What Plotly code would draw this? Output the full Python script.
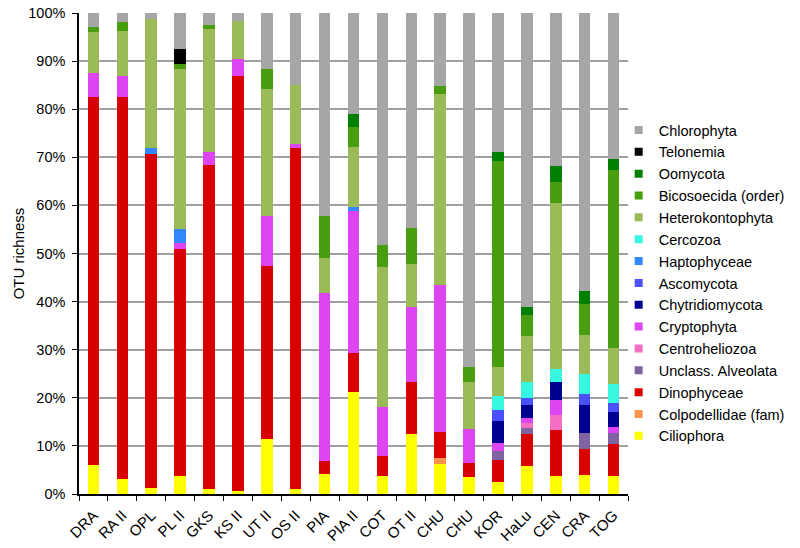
import plotly.graph_objects as go

sites = ["DRA", "RA II", "OPL", "PL II", "GKS", "KS II", "UT II", "OS II", "PIA", "PIA II",
         "COT", "OT II", "CHU", "CHU ", "KOR", "HaLu", "CEN", "CRA", "TOG"]
tick_labels = ["DRA", "RA II", "OPL", "PL II", "GKS", "KS II", "UT II", "OS II", "PIA", "PIA II",
               "COT", "OT II", "CHU", "CHU", "KOR", "HaLu", "CEN", "CRA", "TOG"]
y_ticks = [0, 10, 20, 30, 40, 50, 60, 70, 80, 90, 100]
y_tick_text = ["0%", "10%", "20%", "30%", "40%", "50%", "60%", "70%", "80%", "90%", "100%"]

# segment values (% of OTU richness), bottom to top of stack
ciliophora      = [6.1, 3.1, 1.25, 3.7, 1.0, 0.7, 11.4, 1.0, 4.2, 21.2, 3.8, 12.4, 6.2, 3.5, 2.4, 5.9, 3.8, 4.0, 3.8]
colpodellidae   = [0, 0, 0, 0, 0, 0, 0, 0, 0, 0, 0, 0, 1.3, 0, 0, 0, 0, 0, 0]
dinophyceae     = [76.4, 79.4, 69.35, 47.2, 67.5, 86.1, 35.9, 70.9, 2.7, 8.1, 4.0, 10.8, 5.4, 2.9, 4.7, 6.5, 9.6, 5.4, 6.5]
unclass_alv     = [0, 0, 0, 0, 0, 0, 0, 0, 0, 0, 0, 0, 0, 0, 1.8, 1.3, 0, 3.3, 2.4]
centroheliozoa  = [0, 0, 0, 0, 0, 0, 0, 0, 0, 0, 0, 0, 0, 0, 0, 1.1, 3.0, 0, 0]
cryptophyta     = [5.0, 4.3, 0, 1.3, 2.7, 3.7, 10.6, 0.8, 34.9, 29.5, 10.3, 15.6, 30.6, 7.1, 1.6, 1.1, 3.2, 0, 1.3]
chytridiomycota = [0, 0, 0, 0, 0, 0, 0, 0, 0, 0, 0, 0, 0, 0, 4.6, 2.7, 3.6, 5.9, 3.0]
ascomycota      = [0, 0, 0, 0, 0, 0, 0, 0, 0, 0, 0, 0, 0, 0, 2.4, 1.3, 0, 2.2, 1.9]
haptophyceae    = [0, 0, 1.3, 2.8, 0, 0, 0, 0, 0, 0.9, 0, 0, 0, 0, 0, 0, 0, 0, 0]
cercozoa        = [0, 0, 0, 0, 0, 0, 0, 0, 0, 0, 0, 0, 0, 0, 2.9, 3.3, 2.7, 4.1, 4.0]
heterokontophyta= [8.5, 9.4, 26.85, 33.4, 25.5, 7.9, 26.2, 12.4, 7.2, 12.5, 29.0, 9.1, 39.7, 9.7, 6.1, 9.6, 34.5, 8.2, 7.5]
bicosoecida     = [1.0, 1.9, 0, 1.0, 0.9, 0, 4.3, 0, 8.7, 4.0, 4.6, 7.5, 1.7, 3.3, 42.7, 4.5, 4.5, 6.3, 36.9]
oomycota        = [0, 0, 0, 0, 0, 0, 0, 0, 0, 2.8, 0, 0, 0, 0, 1.9, 1.6, 3.2, 2.9, 2.4]
telonemia       = [0, 0, 0, 3.1, 0, 0, 0, 0, 0, 0, 0, 0, 0, 0, 0, 0, 0, 0, 0]
chlorophyta     = [3.0, 1.9, 1.25, 7.5, 2.4, 1.6, 11.6, 14.9, 42.3, 21.0, 48.3, 44.6, 15.1, 73.5, 28.9, 61.1, 31.9, 57.7, 30.3]

series = [
    ("Ciliophora", ciliophora, "#FFFF00"),
    ("Colpodellidae (fam)", colpodellidae, "#FF9450"),
    ("Dinophyceae", dinophyceae, "#D90000"),
    ("Unclass. Alveolata", unclass_alv, "#8064A2"),
    ("Centroheliozoa", centroheliozoa, "#F46EC4"),
    ("Cryptophyta", cryptophyta, "#DD44F2"),
    ("Chytridiomycota", chytridiomycota, "#00008E"),
    ("Ascomycota", ascomycota, "#4A50FA"),
    ("Haptophyceae", haptophyceae, "#3388FF"),
    ("Cercozoa", cercozoa, "#36F7E0"),
    ("Heterokontophyta", heterokontophyta, "#9BBB59"),
    ("Bicosoecida (order)", bicosoecida, "#489E0E"),
    ("Oomycota", oomycota, "#007F00"),
    ("Telonemia", telonemia, "#000000"),
    ("Chlorophyta", chlorophyta, "#A6A6A6"),
]

font_family = "Liberation Sans, Arial, sans-serif"
fig = go.Figure()
for name, vals, col in series:
    fig.add_trace(go.Bar(x=sites, y=vals, name=name, marker=dict(color=col, line=dict(width=0)),
                         width=0.4, showlegend=False))

# legend entries (top to bottom)
for name, vals, col in reversed(series):
    fig.add_trace(go.Scatter(x=[None], y=[None], mode="markers", name=name,
                             marker=dict(symbol="square", size=8, color=col)))

fig.update_layout(
    width=800, height=548,
    barmode="stack",
    plot_bgcolor="white", paper_bgcolor="white",
    margin=dict(l=79, r=172, t=13, b=54, autoexpand=False),
    font=dict(family=font_family, size=14.5, color="black"),
    showlegend=True,
    legend=dict(x=0.983, y=0.79, xanchor="left", yanchor="top", traceorder="normal",
                font=dict(size=14.5), bgcolor="rgba(0,0,0,0)", itemwidth=30),
    xaxis=dict(type="category", categoryorder="array", categoryarray=sites,
               tickmode="array", tickvals=sites, ticktext=tick_labels, automargin=False,
               tickangle=-45, tickfont=dict(size=15), ticklabelstandoff=5,
               showline=True, linecolor="black", linewidth=1.5,
               ticks="outside", tickson="boundaries", ticklen=5, tickcolor="black",
               showgrid=False, range=[-0.5, len(sites) - 0.5]),
    yaxis=dict(range=[0, 100], tickmode="array", tickvals=y_ticks, ticktext=y_tick_text,
               ticklabelstandoff=4, automargin=False,
               showline=True, linecolor="black", linewidth=1.5,
               ticks="outside", ticklen=5, tickcolor="black",
               showgrid=True, gridcolor="#A0A0A0", gridwidth=1.5,
               title=dict(text="OTU richness", font=dict(size=15), standoff=0), zeroline=False),
)

fig.write_html("out.html", config={"displayModeBar": False},
               post_script="document.body.style.margin='0';document.body.style.overflow='hidden';")
